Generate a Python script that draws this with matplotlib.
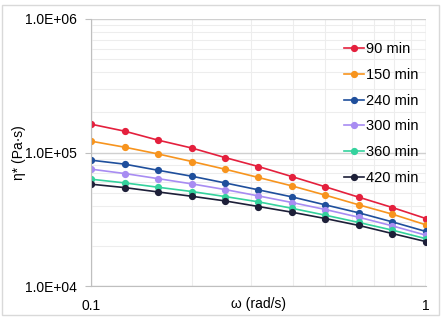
import numpy as np
import matplotlib.pyplot as plt
from matplotlib.ticker import LogLocator, FuncFormatter, NullFormatter

plt.rcParams['font.family'] = ['Liberation Sans', 'DejaVu Sans']

# === data ===
omega = [0.1, 0.126, 0.158, 0.2, 0.251, 0.316, 0.398, 0.501, 0.631, 0.794, 1.0]
labels = ['90 min', '150 min', '240 min', '300 min', '360 min', '420 min']
eta_90 = [163000, 144500, 124000, 108000, 91700, 78500, 66000, 55300, 46200, 38700, 32000]
eta_150 = [121600, 109600, 97700, 85600, 75000, 65000, 56200, 47900, 40500, 34500, 28700]
eta_240 = [87600, 81800, 73700, 66400, 59200, 52500, 46500, 40500, 35300, 30200, 25600]
eta_300 = [75000, 69600, 63800, 58200, 52800, 47300, 42200, 37400, 32700, 28200, 24000]
eta_360 = [63100, 59200, 55000, 51000, 46800, 42700, 38200, 33900, 29900, 26200, 22600]
eta_420 = [57900, 54600, 50700, 47000, 43400, 39400, 35700, 32000, 28400, 24700, 21500]
series = [eta_90, eta_150, eta_240, eta_300, eta_360, eta_420]
colors = ['#E4203D', '#F7941E', '#1F4F9C', '#A88CF2', '#34D29D', '#1D1F38']

# === figure ===
fig = plt.figure(figsize=(4.41, 3.2), dpi=100)
ax = fig.add_axes([91 / 441, 1 - 286 / 320, 335 / 441, 267 / 320])

# chart area border
fig.patches.append(plt.Rectangle((2 / 441, 5 / 320), 437 / 441, 310 / 320,
                                 transform=fig.transFigure, fill=False,
                                 edgecolor='#D9D9D9', linewidth=1.0))

for vals, lab, c in zip(series, labels, colors):
    ax.plot(omega, vals, '-o', color=c, lw=1.2, ms=4.2, label=lab)

ax.set_xscale('log')
ax.set_yscale('log')
ax.set_xlim(0.1, 1)
ax.set_ylim(1e4, 1e6)

ax.yaxis.set_major_locator(LogLocator(base=10, numticks=5))
ax.yaxis.set_minor_locator(LogLocator(base=10, subs=np.arange(2, 10), numticks=20))
ax.yaxis.set_major_formatter(FuncFormatter(lambda v, p: '%.1E' % v))
ax.yaxis.set_minor_formatter(NullFormatter())
ax.xaxis.set_major_locator(LogLocator(base=10, numticks=5))
ax.xaxis.set_minor_locator(LogLocator(base=10, subs=np.arange(2, 10), numticks=20))
ax.xaxis.set_major_formatter(FuncFormatter(lambda v, p: '%g' % v))
ax.xaxis.set_minor_formatter(NullFormatter())

ax.grid(True, which='major', color='#D0D0D0', lw=1.0)
ax.grid(True, which='minor', color='#EDEDED', lw=0.8)
ax.set_axisbelow(True)

for s in ['top', 'right']:
    ax.spines[s].set_visible(False)
for s in ['left', 'bottom']:
    ax.spines[s].set_color('#BFBFBF')

ax.tick_params(axis='y', which='major', length=4, color='#BFBFBF', pad=6, labelsize=10)
ax.tick_params(axis='y', which='minor', length=0)
ax.tick_params(axis='x', which='both', length=0, pad=9, labelsize=10)

ax.set_xlabel('ω (rad/s)', fontsize=10)
ax.xaxis.set_label_coords(0.5, -0.04)
ax.set_ylabel('η* (Pa·s)', fontsize=10)
ax.yaxis.set_label_coords(-0.195, 0.5)

ax.legend(loc='upper right', bbox_to_anchor=(0.998, 0.94), frameon=False,
          fontsize=10.5, handlelength=1.4, handletextpad=0.1, labelspacing=0.8,
          borderpad=0)

fig.savefig('out.png', dpi=100)
